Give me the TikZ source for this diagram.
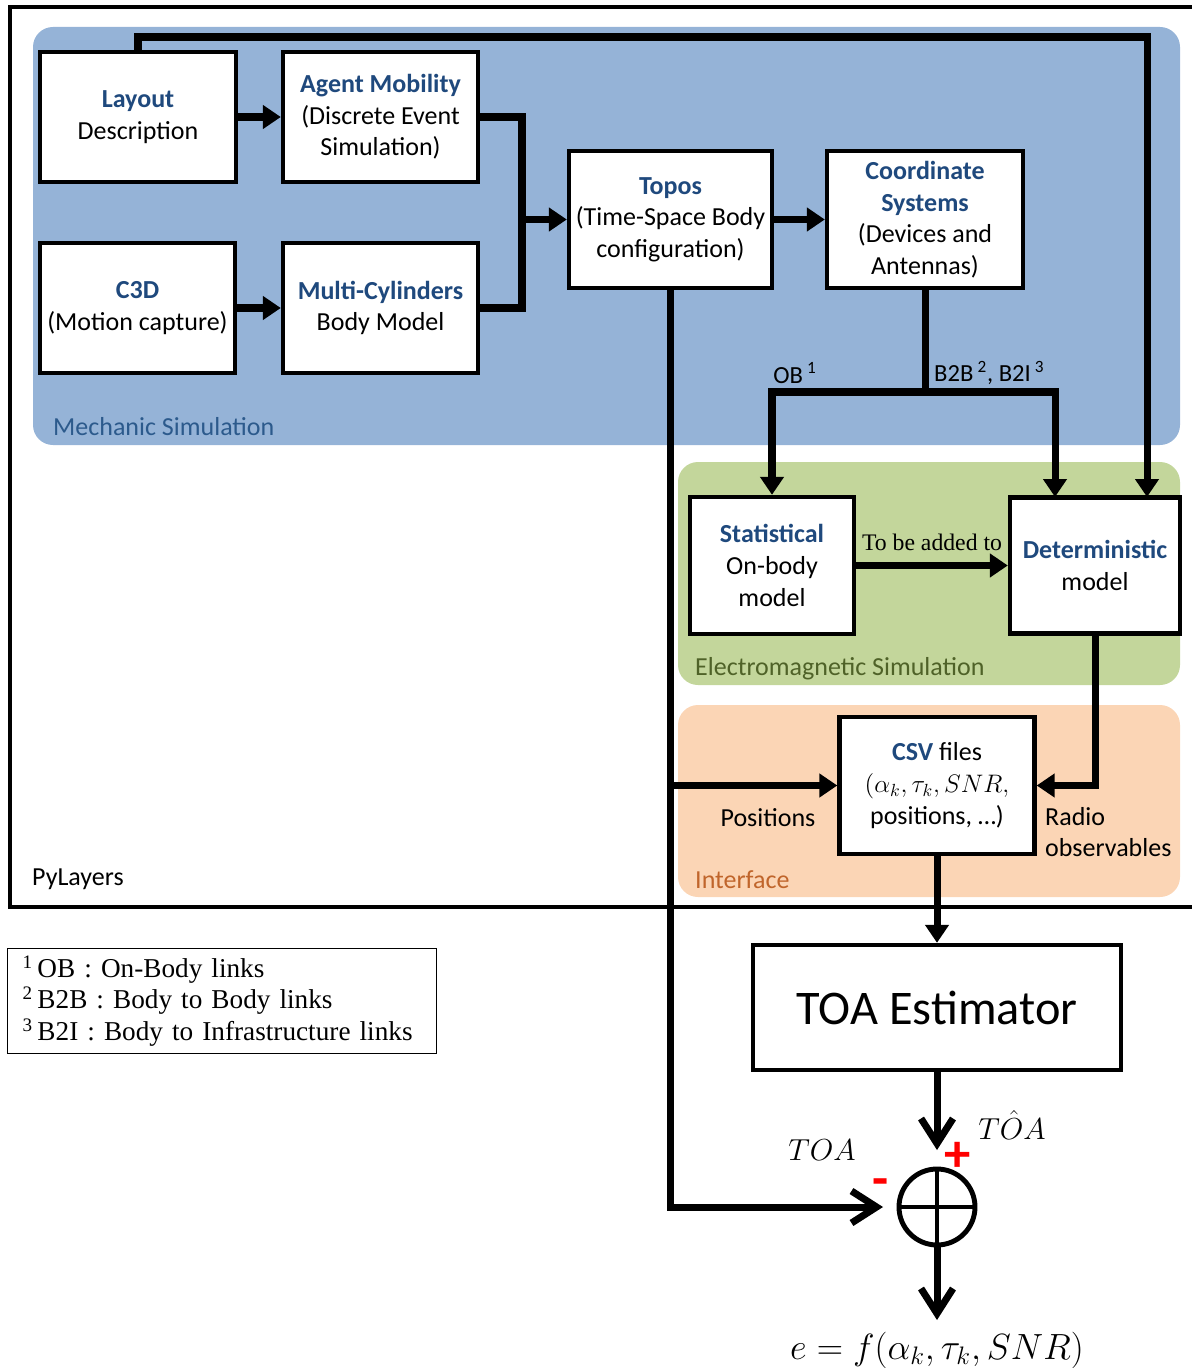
\documentclass[tikz,border=0pt]{standalone}
\usepackage{amsmath}
\usepackage{fontspec}
\setmainfont{Carlito}
\newfontfamily\notefont{Liberation Serif}
\usetikzlibrary{arrows.meta}

\definecolor{mechfill}{HTML}{95B3D7}
\definecolor{emfill}{HTML}{C3D69B}
\definecolor{iffill}{HTML}{FBD5B5}
\definecolor{hdrblue}{HTML}{1F497D}
\definecolor{mechtext}{HTML}{2C5A8C}
\definecolor{emtext}{HTML}{4F6228}
\definecolor{iftext}{HTML}{C0652B}

\newcommand{\hdr}[1]{{\color{hdrblue}\bfseries #1}}

\tikzset{
	block/.style={draw, line width=2.5pt, fill=white, align=center, inner sep=0pt, font=\fontsize{14.8}{18}\selectfont},
	region/.style={rounded corners=0.4cm},
	wire/.style={line width=4pt},
	link/.style={wire, -{Triangle[length=0.36cm,width=0.46cm]}},
	barb/.style={wire, -{Straight Barb[length=0.5cm,width=0.64cm]}},
	lbl/.style={font=\fontsize{14.8}{18}\selectfont},
	small/.style={font=\fontsize{14}{16}\selectfont},
	formula/.style={font=\fontsize{19}{22}\selectfont},
	sign/.style={text=red, inner sep=0pt, font=\fontsize{30}{30}\selectfont\bfseries}
}

\begin{document}
\begin{tikzpicture}[x=0.02cm, y=-0.02cm]
		\useasboundingbox (0,0) rectangle (1192,1368);

		% layers
		\fill[mechfill, region] (33,27) rectangle (1180,445);
		\fill[emfill, region] (678,462) rectangle (1180,685);
		\fill[iffill, region] (678,705) rectangle (1180,897);
		\draw[line width=2.4pt] (1200,7) -- (10,7) -- (10,907) -- (1200,907);

		\draw (47,427) node[lbl, anchor=west, text=mechtext] (mechlbl) {Mechanic Simulation};
		\draw (689,669) node[lbl, anchor=west, text=emtext] (emlbl) {Electromagnetic Simulation};
		\draw (689,880) node[lbl, anchor=west, text=iftext] (iflbl) {Interface};
		\draw (26,879) node[lbl, anchor=west] (pylbl) {PyLayers};

		% blocks
		\draw (138,117) node[block, minimum width=3.92cm, minimum height=2.6cm] (layout) {\hdr{Layout}\\Description};
		\draw (380.5,117) node[block, minimum width=3.9cm, minimum height=2.6cm] (agent) {\hdr{Agent Mobility}\\(Discrete Event\\Simulation)};
		\draw (137.5,308) node[block, minimum width=3.9cm, minimum height=2.6cm] (c3d) {\hdr{C3D}\\(Motion capture)};
		\draw (380.5,308) node[block, minimum width=3.9cm, minimum height=2.6cm] (multi) {\hdr{Multi-Cylinders}\\Body Model};
		\draw (670.5,219.5) node[block, minimum width=4.06cm, minimum height=2.74cm] (topos) {\hdr{Topos}\\(Time-Space Body\\configuration)};
		\draw (925,219.5) node[block, minimum width=3.92cm, minimum height=2.74cm] (coord) {\hdr{Coordinate}\\\hdr{Systems}\\(Devices and\\Antennas)};
		\draw (772,565.5) node[block, minimum width=3.28cm, minimum height=2.74cm] (stat) {\hdr{Statistical}\\On-body\\model};
		\draw (1095,565.5) node[block, minimum width=3.4cm, minimum height=2.72cm] (det) {\hdr{Deterministic}\\model};
		\draw (937,785.5) node[block, minimum width=3.9cm, minimum height=2.74cm] (csv) {\hdr{CSV} files\\$(\alpha_k,\tau_k,SNR,$\\positions, …)};
		\draw (937,1007.5) node[block, minimum width=7.36cm, minimum height=2.5cm, font=\fontsize{27.5}{30}\selectfont] (toaest) {TOA Estimator};
		\draw (937,1207) node[circle, draw, line width=2.8pt, minimum size=1.52cm, outer sep=0pt] (sum) {};
		\draw[line width=2.8pt] (sum.north) -- (sum.south) (sum.west) -- (sum.east);

		% legend
		\draw (7,948) node[draw, line width=0.6pt, anchor=north west, inner xsep=0.3cm, inner ysep=0pt, minimum height=2.1cm, text width=7.98cm, align=left, font=\notefont\fontsize{15.5}{18}\selectfont] (notes) {\mbox{\textsuperscript{1}\,OB : On-Body links}\\\mbox{\textsuperscript{2}\,B2B : Body to Body links}\\\mbox{\textsuperscript{3}\,B2I : Body to Infrastructure links}};

		% corners of the connectors
		\coordinate (join) at (522,219.5);
		\coordinate (toprun) at (1147,37);
		\coordinate (detlay) at (1147,497);
		\coordinate (split) at (925,392);
		\coordinate (detob) at (1055,497);
		\coordinate (tap) at (670.5,785.5);
		\coordinate (out) at (937,1320);

		\draw [link] (layout) -- (agent);
		\draw [link] (c3d) -- (multi);
		\draw [wire] (agent.east) -| (join);
		\draw [wire] (multi.east) -| (join);
		\draw [link] (join) -- (topos.west);
		\draw [link] (topos) -- (coord);
		\draw [link] (layout.north) |- (toprun) -- (detlay);
		\draw [wire] (coord.south) -- (split);
		\draw [link] (split) -| (stat.north);
		\draw [link] (split) -| (detob);
		\draw [link] (stat) -- (det);
		\draw [link] (det.south) |- (csv.east);
		\draw [barb, shorten >=0.32cm] (topos.south) |- (sum.west);
		\draw [link] (tap) -- (csv.west);
		\draw [link] (csv) -- (toaest);
		\draw [barb, shorten >=0.38cm] (toaest) -- (sum);
		\draw [barb] (sum) -- (out);

		% labels
		\draw (795,373) node[small] (oblbl) {OB\,\textsuperscript{1}};
		\draw (928,373) node[small, anchor=west] (b2lbl) {B2B\,\textsuperscript{2}, B2I\,\textsuperscript{3}};
		\draw (932,542) node[font=\notefont\fontsize{13.5}{15}\selectfont] (addlbl) {To be added to};
		\draw (768,818) node[lbl] (poslbl) {Positions};
		\draw (1039,832) node[lbl, anchor=west, align=left] (radiolbl) {Radio\\observables};
		\draw (822,1150) node[formula] (toalbl) {$TOA$};
		\draw (1012,1125) node[formula] (toahat) {$T\hat{O}A$};
		\draw (958,1157) node[sign] (plus) {+};
		\draw (881,1188) node[sign] (minus) {-};
		\draw (937,1350) node[formula, font=\fontsize{20}{22}\selectfont] (errlbl) {$e = f(\alpha_k,\tau_k,SNR)$};
	\end{tikzpicture}
\end{document}
